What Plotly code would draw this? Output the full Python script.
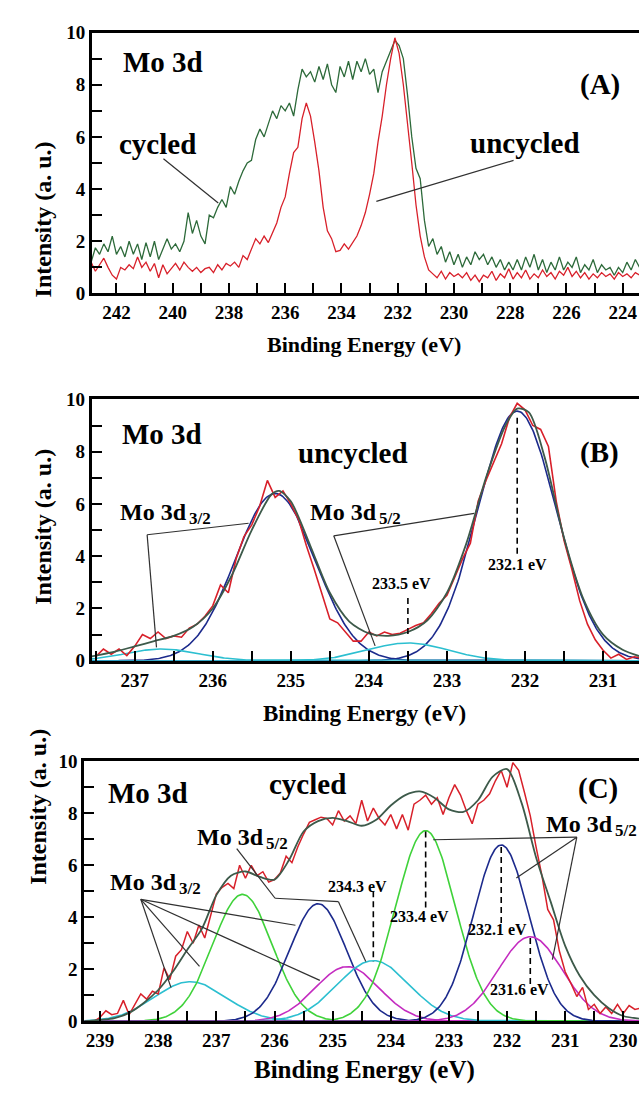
import numpy as np
import plotly.graph_objects as go

# ---------------- data ----------------
# (A) survey of Mo 3d region, 0.15 eV steps from 242.90 eV downwards
a_start, a_step = 242.90, 0.15
cycled_a = [1.2, 1.75, 1.5, 1.9, 1.6, 2.2, 1.5, 1.8, 1.4, 2.0,
            1.5, 1.9, 1.3, 1.95, 1.4, 2.0, 1.3, 1.7, 2.1, 1.7,
            1.9, 1.6, 2.0, 3.1, 2.3, 2.8, 2.2, 1.9, 3.0, 2.9,
            3.3, 3.6, 3.3, 4.1, 3.8, 4.3, 4.7, 5.0, 5.1, 5.9,
            6.3, 6.0, 6.5, 7.0, 6.7, 7.2, 7.0, 7.3, 6.8, 7.8,
            8.6, 8.3, 8.5, 8.1, 8.7, 8.2, 8.8, 8.0, 7.7, 8.7,
            8.3, 8.9, 8.2, 8.9, 8.5, 9.0, 8.4, 8.6, 7.7, 8.5,
            8.9, 9.3, 9.7, 9.5, 9.0, 7.6, 6.0, 4.8, 4.4, 2.8,
            1.8, 2.1, 1.5, 1.8, 1.2, 1.6, 1.1, 1.5, 1.0, 1.4,
            1.1, 1.6, 1.3, 1.5, 1.1, 1.4, 1.0, 1.3, 0.9, 1.2,
            0.9, 1.3, 0.9, 1.4, 1.0, 1.5, 0.9, 1.3, 0.8, 1.2,
            0.9, 1.4, 0.9, 1.2, 1.0, 1.4, 0.8, 1.1, 0.9, 1.3,
            0.8, 1.1, 0.9, 1.0, 0.7, 1.0, 0.8, 1.2, 0.9, 1.3,
            1.0]
uncycled_a = [1.2, 0.85, 1.1, 1.35, 1.0, 0.7, 0.55, 1.0, 0.9, 1.1,
              0.95, 1.4, 1.0, 1.2, 0.85, 1.15, 0.6, 1.1, 0.75, 0.95,
              1.15, 0.9, 1.2, 1.0, 0.85, 1.0, 0.8, 0.95, 1.0, 0.8,
              1.1, 0.9, 1.15, 1.05, 1.2, 1.0, 1.45, 1.3, 1.7, 2.1,
              1.9, 2.2, 1.95, 2.3, 2.7, 3.3, 3.7, 4.6, 5.4, 5.6,
              6.7, 7.3, 6.8, 5.8, 4.7, 3.3, 2.4, 2.1, 1.6, 1.65,
              1.9, 1.7, 1.95, 2.2, 2.6, 3.1, 3.8, 4.6, 5.8, 6.8,
              8.0, 9.0, 9.8, 9.2, 8.0, 6.6, 5.0, 3.4, 2.2, 1.4,
              0.9, 0.75, 0.6, 0.85, 0.55, 0.8, 0.65, 0.75, 0.6, 0.8,
              0.5, 0.7, 0.45, 0.7, 0.6, 0.85, 0.5, 0.75, 0.6, 0.95,
              0.55, 0.8, 0.6, 0.9, 0.55, 0.75, 0.6, 0.9, 0.65, 0.8,
              0.55, 0.85, 0.7, 1.0, 0.65, 0.85, 0.6, 0.8, 0.55, 0.75,
              0.6, 0.8, 0.65, 0.75, 0.55, 0.8, 0.65, 0.75, 0.6, 0.8,
              0.7]

# (B) uncycled, 0.1 eV steps from 237.5 eV downwards
b_start, b_step = 237.5, 0.1
uncycled_b = [0.15, 0.45, 0.25, 0.45, 0.2, 0.55, 1.0, 0.85, 1.1, 0.85,
              0.95, 0.9, 1.25, 1.4, 1.7, 2.1, 2.9, 2.6, 3.9, 4.75,
              5.2, 5.9, 6.9, 6.25, 6.5, 6.0, 5.4, 4.4, 3.5, 2.5,
              1.6, 1.45, 1.1, 0.75, 0.75, 1.1, 0.95, 1.1, 1.0, 1.05,
              1.2, 1.35, 1.45, 1.8, 2.2, 2.5, 3.2, 3.9, 4.5, 6.1,
              6.9, 7.6, 8.3, 9.3, 9.85, 9.6, 9.0, 8.85, 8.2, 6.1,
              4.6, 3.5, 2.3, 1.4, 0.8, 0.4, 0.1, 0.25, 0.05, 0.15,
              0.1]
fit_b_energy = [237.55, 237.25, 237.0, 236.75, 236.5, 236.25, 236.0, 235.75,
                235.5, 235.25, 235.15, 235.0, 234.75, 234.5, 234.25, 234.0,
                233.75, 233.5, 233.25, 233.0, 232.75, 232.5, 232.25, 232.1,
                231.95, 231.75, 231.5, 231.25, 231.0, 230.75, 230.54]
fit_b = [0.17, 0.35, 0.55, 0.75, 0.95, 1.3, 2.0, 3.3,
         5.0, 6.35, 6.5, 6.1, 4.4, 2.6, 1.5, 1.05,
         0.95, 1.1, 1.55, 2.6, 4.5, 7.0, 9.0, 9.65,
         9.5, 7.8, 4.7, 2.35, 1.0, 0.42, 0.18]
b_centers = [235.2, 232.1, 236.65, 233.5]
b_heights = [6.4, 9.55, 0.45, 0.68]
b_fwhm = [1.2, 1.18, 1.1, 1.2]
b_kinds = ["navy", "navy", "cyan", "cyan"]

# (C) cycled, 0.1 eV steps from 239.1 eV downwards
c_start, c_step = 239.1, 0.1
cycled_c = [0.0, 0.15, 0.4, 0.25, 0.3, 0.8, 0.25, 0.65, 1.05, 0.85,
            1.15, 1.05, 2.05, 1.6, 2.5, 2.75, 3.45, 3.0, 3.7, 3.2,
            4.0, 4.9, 5.15, 5.3, 5.1, 6.0, 5.5, 6.0, 5.6, 5.75,
            5.35, 5.45, 5.7, 6.35, 6.1, 6.7, 7.2, 7.65, 7.75, 7.85,
            7.8, 7.55, 8.1, 7.7, 7.9, 7.6, 8.5, 7.7, 8.2, 7.8,
            7.55, 7.95, 7.4, 7.95, 7.35, 8.35, 8.5, 8.7, 8.35, 8.6,
            7.95, 8.6, 9.1, 8.7, 8.1, 7.6, 8.35, 8.5, 8.75, 9.25,
            9.65, 9.0, 9.95, 9.65, 8.8, 7.9, 6.7, 5.6, 4.3, 3.9,
            2.7, 1.9, 1.45, 0.95, 1.3, 0.45, 0.65, 0.3, 0.55, 0.3,
            0.65, 0.3, 0.6, 0.45, 0.5]
fit_c_energy = [239.27, 239.0, 238.75, 238.5, 238.25, 238.0, 237.75, 237.5, 237.25, 237.0,
                236.75, 236.5, 236.25, 236.0, 235.75, 235.5, 235.25, 235.0, 234.75, 234.5,
                234.25, 234.0, 233.75, 233.5, 233.25, 233.0, 232.75, 232.5, 232.25, 232.0,
                231.75, 231.5, 231.25, 231.0, 230.75, 230.5, 230.25, 230.0, 229.73]
fit_c = [0.0, 0.05, 0.12, 0.32, 0.7, 1.2, 1.9, 2.75, 3.55, 4.85,
         5.6, 5.76, 5.55, 5.45, 6.2, 7.3, 7.7, 7.82, 7.7, 7.52,
         7.75, 8.3, 8.7, 8.84, 8.6, 8.15, 8.05, 8.5, 9.4, 9.7,
         8.4, 6.3, 4.6, 2.9, 1.75, 1.0, 0.5, 0.2, 0.1]
c_centers = [237.45, 236.55, 235.25, 234.75, 234.3, 233.4, 232.1, 231.6]
c_heights = [1.52, 4.88, 4.52, 2.1, 2.33, 7.33, 6.78, 3.25]
c_fwhm = [1.45, 1.2, 1.15, 1.3, 1.45, 1.2, 1.12, 1.3]
c_kinds = ["cyan", "lime", "navy", "magenta", "cyan", "lime", "navy", "magenta"]

# ---------------- style ----------------
FONT = "Liberation Serif"
RED = "#d8202a"
DKGREEN = "#2d6a3a"
ENV = "#3d5a4a"
COL = {"navy": "#1c2a8c", "cyan": "#2cbfd0", "lime": "#3fd23a", "magenta": "#c42cc0"}

W, H = 639, 1093
RANGE_A = [242.87, 223.42]
RANGE_B = [237.55, 230.54]
RANGE_C = [239.27, 229.73]
PX_PER_EV = {"B": 78.1, "C": 58.15}
PX_PER_UNIT = {"B": 26.65, "C": 26.5}
BIG = 29


def grid(start, step, n):
    return np.round(start - step * np.arange(n), 3)


def component(e, c, h, w):
    return h * np.exp(-4 * np.log(2) * (e - c) ** 2 / w ** 2)


fig = go.Figure()

# panel A
e_a = grid(a_start, a_step, len(cycled_a))
fig.add_trace(go.Scatter(x=e_a, y=cycled_a, mode="lines", line=dict(color=DKGREEN, width=1.3),
                         xaxis="x", yaxis="y"))
fig.add_trace(go.Scatter(x=e_a, y=uncycled_a, mode="lines", line=dict(color=RED, width=1.3),
                         xaxis="x", yaxis="y"))

# panel B
eb = np.linspace(RANGE_B[1], RANGE_B[0], 500)
for c, h, w, k in zip(b_centers, b_heights, b_fwhm, b_kinds):
    fig.add_trace(go.Scatter(x=eb, y=component(eb, c, h, w), mode="lines",
                             line=dict(color=COL[k], width=1.6), xaxis="x2", yaxis="y2"))
fig.add_trace(go.Scatter(x=grid(b_start, b_step, len(uncycled_b)), y=uncycled_b, mode="lines",
                         line=dict(color=RED, width=1.6), xaxis="x2", yaxis="y2"))
fig.add_trace(go.Scatter(x=fit_b_energy, y=fit_b, mode="lines",
                         line=dict(color=ENV, width=1.8, shape="spline", smoothing=0.8),
                         xaxis="x2", yaxis="y2"))

# panel C
ec = np.linspace(RANGE_C[1], RANGE_C[0], 600)
for c, h, w, k in zip(c_centers, c_heights, c_fwhm, c_kinds):
    fig.add_trace(go.Scatter(x=ec, y=component(ec, c, h, w), mode="lines",
                             line=dict(color=COL[k], width=1.6), xaxis="x3", yaxis="y3"))
fig.add_trace(go.Scatter(x=grid(c_start, c_step, len(cycled_c)), y=cycled_c, mode="lines",
                         line=dict(color=RED, width=1.5), xaxis="x3", yaxis="y3"))
fig.add_trace(go.Scatter(x=fit_c_energy, y=fit_c, mode="lines",
                         line=dict(color=ENV, width=1.8, shape="spline", smoothing=0.8),
                         xaxis="x3", yaxis="y3"))

# ---------------- axes ----------------
tickfont = dict(family=FONT, size=19, color="black", weight="bold")


def xaxis(domain, rng, dtick, minor, tick0):
    return dict(domain=domain, range=rng, tickmode="linear", tick0=tick0, dtick=dtick,
                ticks="inside", ticklen=10, tickwidth=2, tickcolor="black",
                showline=True, linewidth=3, linecolor="black", mirror=True,
                showgrid=False, zeroline=False, tickfont=tickfont,
                minor=dict(tick0=tick0, dtick=minor, ticks="inside", ticklen=10,
                           tickwidth=2, tickcolor="black", showgrid=False))


def yaxis(domain, anchor):
    return dict(domain=domain, range=[0, 10], anchor=anchor, tickmode="linear", tick0=0, dtick=2,
                ticks="inside", ticklen=10, tickwidth=2, tickcolor="black",
                showline=True, linewidth=3, linecolor="black", mirror=False,
                showgrid=False, zeroline=False, tickfont=tickfont,
                minor=dict(tick0=0, dtick=1, ticks="inside", ticklen=10,
                           tickwidth=2, tickcolor="black", showgrid=False))


def ydom(top_px, bottom_px):
    return [1 - bottom_px / H, 1 - top_px / H]


fig.update_layout(
    width=W, height=H, margin=dict(l=0, r=0, t=0, b=0),
    paper_bgcolor="white", plot_bgcolor="white", showlegend=False,
    xaxis=dict(**xaxis([92 / W, 1], RANGE_A, 2, 1, 224), anchor="y"),
    yaxis=yaxis(ydom(23, 289), "x"),
    xaxis2=dict(**xaxis([91.7 / W, 1], RANGE_B, 1, 0.5, 231), anchor="y2"),
    yaxis2=yaxis(ydom(397, 663.5), "x2"),
    xaxis3=dict(**xaxis([84.4 / W, 1], RANGE_C, 1, 0.5, 230), anchor="y3"),
    yaxis3=yaxis(ydom(766, 1031), "x3"),
)

# ---------------- text ----------------
ann = []


def text(s, x, y, ax, size, xanchor="center", yanchor="middle"):
    ann.append(dict(text="<b>%s</b>" % s, x=x, y=y, xref=ax[0], yref=ax[1], showarrow=False,
                    xanchor=xanchor, yanchor=yanchor,
                    font=dict(family=FONT, size=size, color="black")))


def level_label(sub, x_left, y_mid, ax, panel):
    # "Mo 3d" followed by a lowered, smaller j-level subscript
    text("Mo 3d", x_left, y_mid, ax, 24, xanchor="left")
    text(sub, x_left - 69 / PX_PER_EV[panel], y_mid - 6.5 / PX_PER_UNIT[panel], ax, 17,
         xanchor="left")


PA, PB, PC = ("x", "y"), ("x2", "y2"), ("x3", "y3")
PAPER = ("paper", "paper")

for yc, xc in [(132, 28), (527, 28), (894, 23)]:
    ann.append(dict(text="<b>Intensity (a. u.)</b>", x=xc / W, y=1 - yc / H, xref="paper",
                    yref="paper", showarrow=False, textangle=-90,
                    font=dict(family=FONT, size=24, color="black")))
for yc, size in [(341, 22), (717, 23), (1081, 25)]:
    text("Binding Energy (eV)", 364 / W, 1 - yc / H, PAPER, size)

# panel A labels
text("Mo 3d", 240.34, 8.87, PA, BIG)
text("cycled", 240.54, 5.71, PA, BIG)
text("uncycled", 227.46, 5.75, PA, BIG)
text("(A)", 224.79, 8.0, PA, BIG)

# panel B labels
text("Mo 3d", 236.65, 8.69, PB, BIG)
text("uncycled", 234.2, 7.94, PB, BIG)
text("(B)", 231.04, 7.97, PB, BIG)
level_label("3/2", 237.21, 5.68, PB, "B")
level_label("5/2", 234.78, 5.68, PB, "B")
text("233.5 eV", 233.58, 2.95, PB, 16)
text("232.1 eV", 232.1, 3.7, PB, 16)

# panel C labels
text("Mo 3d", 238.18, 8.79, PC, BIG)
text("cycled", 235.44, 9.13, PC, BIG)
text("(C)", 230.44, 8.94, PC, BIG)
level_label("5/2", 237.37, 7.08, PC, "C")
level_label("5/2", 231.37, 7.58, PC, "C")
level_label("3/2", 238.86, 5.36, PC, "C")
text("234.3 eV", 234.57, 5.2, PC, 16)
text("233.4 eV", 233.5, 4.04, PC, 16)
text("232.1 eV", 232.17, 3.51, PC, 16)
text("231.6 eV", 231.78, 1.21, PC, 16)

fig.update_layout(annotations=ann)

# ---------------- leader and marker lines ----------------
shapes = []


def polyline(points, ax, color="#303030", width=1.2):
    for (x0, y0), (x1, y1) in zip(points[:-1], points[1:]):
        shapes.append(dict(type="line", x0=x0, y0=y0, x1=x1, y1=y1, xref=ax[0], yref=ax[1],
                           line=dict(color=color, width=width)))


def dashed(x, y0, y1, ax):
    shapes.append(dict(type="line", x0=x, y0=y0, x1=x, y1=y1, xref=ax[0], yref=ax[1],
                       line=dict(color="black", width=1.6, dash="6px,4px")))


polyline([(240.33, 5.16), (238.38, 3.47)], PA)
polyline([(227.88, 5.1), (232.76, 3.53)], PA)

polyline([(235.54, 5.26), (236.84, 4.82), (236.72, 0.51)], PB)
polyline([(232.65, 5.64), (234.45, 4.78), (233.92, 0.57)], PB)
dashed(232.1, 9.3, 4.05, PB)
dashed(233.5, 2.4, 1.0, PB)

for end in [(237.78, 1.29), (237.29, 2.11), (235.64, 3.69), (235.22, 1.57)]:
    polyline([(238.30, 4.69), end], PC)
polyline([(236.65, 6.64), (235.99, 4.73), (234.9, 4.6), (234.43, 2.3)], PC)
for end in [(233.27, 6.98), (231.84, 5.51), (231.22, 2.37)]:
    polyline([(230.8, 7.08), end], PC)
dashed(234.3, 5.0, 2.3, PC)
dashed(233.4, 7.3, 4.3, PC)
dashed(232.1, 6.7, 3.7, PC)
dashed(231.6, 3.2, 1.43, PC)

fig.update_layout(shapes=shapes)

fig.write_html("out.html")
